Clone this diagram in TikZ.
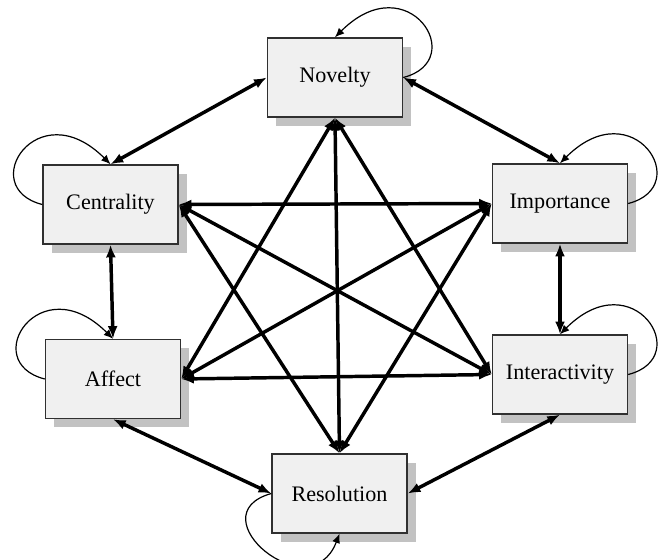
\documentclass[tikz,border=0pt]{standalone}
\usepackage{fontspec}
\setmainfont{Liberation Serif}
\usetikzlibrary{arrows.meta,shadows,calc}
\definecolor{boxfill}{HTML}{F0F0F0}
\definecolor{shadowgray}{HTML}{C2C2C2}
\definecolor{boxline}{HTML}{303030}
\begin{document}
\begin{tikzpicture}[x=0.75pt,y=-0.75pt,
 box/.style={draw=boxline, line width=1.1pt, fill=boxfill, minimum width=101.25pt, minimum height=59.25pt, inner sep=0pt,
   font=\fontsize{16.6}{19}\selectfont,
   general shadow={fill=shadowgray, shadow xshift=6.5pt, shadow yshift=-6.5pt}},
 link/.style={line width=2.6pt, {Latex[length=9.5pt,width=7.5pt]}-{Latex[length=9.5pt,width=7.5pt]}},
 selfloop/.style={line width=0.9pt, -{Latex[length=7pt,width=6pt]}}]
\useasboundingbox (0,0) rectangle (658,560);
\node[box] (Nov) at (335,77.5) {Novelty};
\node[box] (Cen) at (110.5,204.5) {Centrality};
\node[box] (Imp) at (560,203.5) {Importance};
\node[box] (Aff) at (113,379) {Affect};
\node[box] (Int) at (560,374.5) {Interactivity};
\node[box] (Res) at (339.5,493.5) {Resolution};
% adjacent links
\draw[link] (Nov.west) -- (Cen.north);
\draw[link] (Nov.east) -- (Imp.north);
\draw[link] (Cen.south) -- (Aff.north);
\draw[link] (Imp.south) -- (Int.north);
\draw[link] (Aff.south) -- (Res.west);
\draw[link] (Int.south) -- (Res.east);
% star links
\draw[link] (Cen.east) -- (Imp.west);
\draw[link] (Cen.east) -- (Int.west);
\draw[link] (Cen.east) -- (Res.north);
\draw[link] (Aff.east) -- (Imp.west);
\draw[link] (Aff.east) -- (Int.west);
\draw[link] (Aff.east) -- (Nov.south);
\draw[link] (Nov.south) -- (Int.west);
\draw[link] (Nov.south) -- (Res.north);
\draw[link] (Res.north) -- (Imp.west);
% self loops
\draw[selfloop] (Nov.east) .. controls +(67,-17) and +(73,-73) .. (Nov.north);
\draw[selfloop] (Imp.east) .. controls +(67,-17) and +(73,-73) .. (Imp.north);
\draw[selfloop] (Int.east) .. controls +(67,-17) and +(73,-73) .. (Int.north);
\draw[selfloop] (Cen.west) .. controls +(-67,-17) and +(-73,-73) .. (Cen.north);
\draw[selfloop] (Aff.west) .. controls +(-67,-17) and +(-73,-73) .. (Aff.north);
\draw[selfloop] (Res.west) .. controls +(-76,21.5) and +(-29.5,77) .. (Res.south);
\end{tikzpicture}
\end{document}
